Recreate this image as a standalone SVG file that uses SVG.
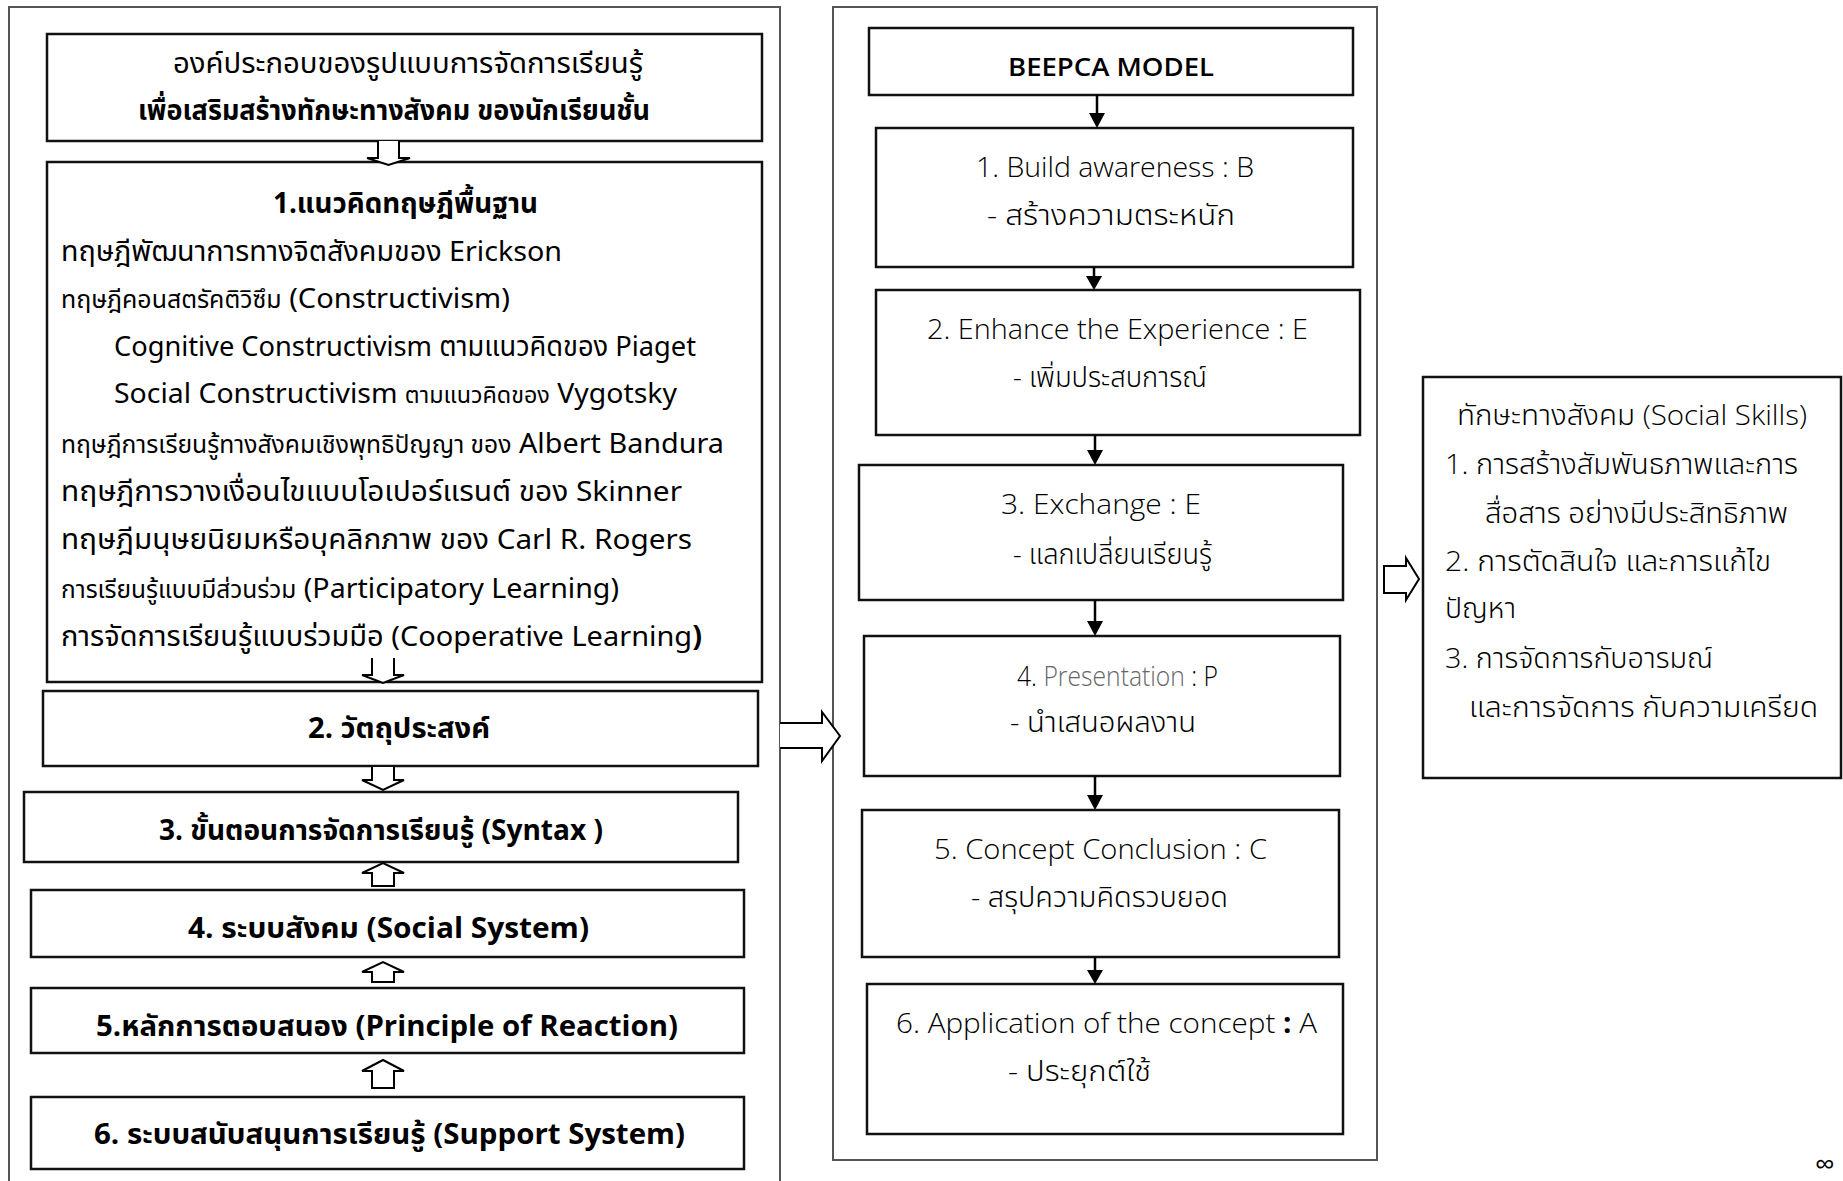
<svg xmlns="http://www.w3.org/2000/svg" width="1843" height="1181" viewBox="0 0 1843 1181" xml:space="preserve">
<style>
.frame{fill:none;stroke:#555;stroke-width:2}
.box{fill:#fff;stroke:#111;stroke-width:2.5}
.hol{fill:#fff;stroke:#000;stroke-width:2;stroke-linejoin:miter}
.ln{stroke:#000;stroke-width:2.5}
.th{font-family:"Noto Sans Thai","Noto Sans Thai UI","Sarabun","Loma","Garuda","Noto Sans",sans-serif;fill:#000;font-size:28px}
.thb{font-family:"Noto Sans Thai","Noto Sans Thai UI","Sarabun","Loma","Garuda","Noto Sans",sans-serif;fill:#000;font-weight:bold;font-size:28px}
.en{font-family:"Open Sans","Noto Sans Thai","Noto Sans",sans-serif;font-weight:300;fill:#000;font-size:28px}
.enb{font-family:"Open Sans","Noto Sans Thai","Noto Sans",sans-serif;font-weight:600;fill:#000;font-size:26px}
</style>
<rect x="0" y="0" width="1843" height="1181" fill="#fff"/>
<g id="frame-left"><path class="frame" d="M9,1185 V7 H780 V1185"/></g>
<g id="frame-middle"><rect class="frame" x="833" y="7" width="544" height="1153"/></g>

<g id="title">
<rect class="box" x="47" y="34" width="715" height="107"/>
<text class="th" x="173" y="73" textLength="470" lengthAdjust="spacingAndGlyphs">องค์ประกอบของรูปแบบการจัดการเรียนรู้</text>
<text class="thb" x="138" y="120" textLength="512" lengthAdjust="spacingAndGlyphs">เพื่อเสริมสร้างทักษะทางสังคม ของนักเรียนชั้น</text>
</g>

<g id="box1">
<rect class="box" x="47" y="162" width="715" height="520"/>
<text class="thb" x="273" y="213" textLength="265" lengthAdjust="spacingAndGlyphs">1.แนวคิดทฤษฎีพื้นฐาน</text>
<text class="th" x="61" y="261" textLength="501" lengthAdjust="spacingAndGlyphs">ทฤษฎีพัฒนาการทางจิตสังคมของ Erickson</text>
<text class="th" x="61" y="308" textLength="449" lengthAdjust="spacingAndGlyphs"><tspan font-size="24">ทฤษฎีคอนสตรัคติวิซึม</tspan> (Constructivism)</text>
<text class="th" x="114" y="356" textLength="582" lengthAdjust="spacingAndGlyphs">Cognitive Constructivism ตามแนวคิดของ Piaget</text>
<text class="th" x="114" y="403" textLength="563" lengthAdjust="spacingAndGlyphs">Social Constructivism  <tspan font-size="23">ตามแนวคิดของ</tspan> Vygotsky</text>
<text class="th" x="61" y="453" textLength="663" lengthAdjust="spacingAndGlyphs"><tspan font-size="24">ทฤษฎีการเรียนรู้ทางสังคมเชิงพุทธิปัญญา ของ</tspan> Albert Bandura</text>
<text class="th" x="61" y="501" textLength="621" lengthAdjust="spacingAndGlyphs">ทฤษฎีการวางเงื่อนไขแบบโอเปอร์แรนต์  ของ Skinner</text>
<text class="th" x="61" y="549" textLength="631" lengthAdjust="spacingAndGlyphs">ทฤษฎีมนุษยนิยมหรือบุคลิกภาพ  ของ Carl  R. Rogers</text>
<text class="th" x="61" y="598" textLength="558" lengthAdjust="spacingAndGlyphs"><tspan font-size="24">การเรียนรู้แบบมีส่วนร่วม</tspan> (Participatory Learning)</text>
<text class="th" x="61" y="646" textLength="641" lengthAdjust="spacingAndGlyphs">การจัดการเรียนรู้แบบร่วมมือ (Cooperative Learning<tspan font-weight="bold">)</tspan></text>
</g>

<g id="box2">
<rect class="box" x="43" y="691" width="715" height="75"/>
<text class="thb" x="308" y="738" textLength="182" lengthAdjust="spacingAndGlyphs">2. วัตถุประสงค์</text>
</g>
<g id="box3">
<rect class="box" x="24" y="792" width="714" height="70"/>
<text class="thb" x="159" y="840" textLength="444" lengthAdjust="spacingAndGlyphs">3. ขั้นตอนการจัดการเรียนรู้ (Syntax )</text>
</g>
<g id="box4">
<rect class="box" x="31" y="890" width="713" height="67"/>
<text class="thb" x="188" y="938" textLength="401" lengthAdjust="spacingAndGlyphs">4. ระบบสังคม  (Social  System)</text>
</g>
<g id="box5">
<rect class="box" x="31" y="988" width="713" height="65"/>
<text class="thb" x="96" y="1036" textLength="582" lengthAdjust="spacingAndGlyphs">5.หลักการตอบสนอง  (Principle  of  Reaction)</text>
</g>
<g id="box6">
<rect class="box" x="31" y="1097" width="713" height="72"/>
<text class="thb" x="94" y="1144" textLength="591" lengthAdjust="spacingAndGlyphs">6. ระบบสนับสนุนการเรียนรู้  (Support  System)</text>
</g>

<g id="beepca">
<rect class="box" x="869" y="28" width="484" height="67"/>
<text class="enb" x="1008" y="76" textLength="206" lengthAdjust="spacingAndGlyphs">BEEPCA MODEL</text>
</g>
<g id="b1">
<rect class="box" x="876" y="128" width="477" height="139"/>
<text class="en" x="976" y="177" textLength="278" lengthAdjust="spacingAndGlyphs">1. Build awareness : B</text>
<text class="en" x="987" y="225" textLength="248" lengthAdjust="spacingAndGlyphs">-  สร้างความตระหนัก</text>
</g>
<g id="b2">
<rect class="box" x="876" y="290" width="484" height="145"/>
<text class="en" x="927" y="339" textLength="381" lengthAdjust="spacingAndGlyphs">2. Enhance the Experience : E</text>
<text class="en" x="1013" y="387" textLength="194" lengthAdjust="spacingAndGlyphs">- เพิ่มประสบการณ์</text>
</g>
<g id="b3">
<rect class="box" x="859" y="465" width="484" height="135"/>
<text class="en" x="1001" y="514" textLength="200" lengthAdjust="spacingAndGlyphs">3.  Exchange : E</text>
<text class="en" x="1013" y="564" textLength="199" lengthAdjust="spacingAndGlyphs">- แลกเปลี่ยนเรียนรู้</text>
</g>
<g id="b4">
<rect class="box" x="864" y="636" width="476" height="140"/>
<text class="en" x="1017" y="686" textLength="201" lengthAdjust="spacingAndGlyphs">4. <tspan fill="#666">Presentation</tspan> : P</text>
<text class="en" x="1010" y="732" textLength="186" lengthAdjust="spacingAndGlyphs">- นำเสนอผลงาน</text>
</g>
<g id="b5">
<rect class="box" x="862" y="810" width="477" height="147"/>
<text class="en" x="934" y="859" textLength="333" lengthAdjust="spacingAndGlyphs">5. Concept Conclusion : C</text>
<text class="en" x="971" y="907" textLength="257" lengthAdjust="spacingAndGlyphs">- สรุปความคิดรวบยอด</text>
</g>
<g id="b6">
<rect class="box" x="867" y="984" width="476" height="150"/>
<text class="en" x="896" y="1033" textLength="421" lengthAdjust="spacingAndGlyphs">6. Application of the concept <tspan font-weight="bold">:</tspan> A</text>
<text class="en" x="1008" y="1081" textLength="143" lengthAdjust="spacingAndGlyphs">- ประยุกต์ใช้</text>
</g>

<g id="skills">
<rect class="box" x="1423" y="377" width="418" height="401"/>
<text class="en" x="1457" y="425" textLength="350" lengthAdjust="spacingAndGlyphs">ทักษะทางสังคม (Social Skills)</text>
<text class="en" x="1445" y="474" textLength="353" lengthAdjust="spacingAndGlyphs">1. การสร้างสัมพันธภาพและการ</text>
<text class="en" x="1485" y="523" textLength="303" lengthAdjust="spacingAndGlyphs">สื่อสาร อย่างมีประสิทธิภาพ</text>
<text class="en" x="1445" y="571" textLength="326" lengthAdjust="spacingAndGlyphs">2. การตัดสินใจ และการแก้ไข</text>
<text class="en" x="1445" y="618" textLength="71" lengthAdjust="spacingAndGlyphs">ปัญหา</text>
<text class="en" x="1445" y="668" textLength="268" lengthAdjust="spacingAndGlyphs">3. การจัดการกับอารมณ์</text>
<text class="en" x="1469" y="717" textLength="349" lengthAdjust="spacingAndGlyphs">และการจัดการ กับความเครียด</text>
</g>

<g id="connectors">
<path class="hol" d="M378,141 V158 H367 L388.5,165 L410,158 H399 V141"/>
<path class="hol" d="M372,658 V675 H362 L383,683 L404,675 H394 V658"/>
<path class="hol" d="M372,767 V780 H362 L383,790 L404,780 H394 V767"/>
<path class="hol" d="M372,886 V873 H362 L383,863 L404,873 H394 V886 Z"/>
<path class="hol" d="M372,982 V972 H362 L383,962 L404,972 H394 V982 Z"/>
<path class="hol" d="M372,1088 V1071 H362 L383,1060 L404,1071 H394 V1088 Z"/>
<path class="hol" d="M780,723 H822 V712 L840,736 L822,761 V748 H780"/>
<path class="hol" d="M1384,566 H1406 V558 L1419,579 L1406,600 V593 H1384 Z"/>
<line class="ln" x1="1097" y1="95" x2="1097" y2="113"/><path d="M1089,113 H1105 L1097,128 Z"/>
<line class="ln" x1="1094" y1="267" x2="1094" y2="276"/><path d="M1086,276 H1102 L1094,290 Z"/>
<line class="ln" x1="1095" y1="435" x2="1095" y2="450"/><path d="M1087,450 H1103 L1095,465 Z"/>
<line class="ln" x1="1095" y1="600" x2="1095" y2="621"/><path d="M1087,621 H1103 L1095,636 Z"/>
<line class="ln" x1="1095" y1="776" x2="1095" y2="795"/><path d="M1087,795 H1103 L1095,810 Z"/>
<line class="ln" x1="1095" y1="957" x2="1095" y2="970"/><path d="M1087,970 H1103 L1095,984 Z"/>
</g>
<text class="en" x="1815" y="1174" font-size="22" style="font-weight:400">∞</text>
</svg>
